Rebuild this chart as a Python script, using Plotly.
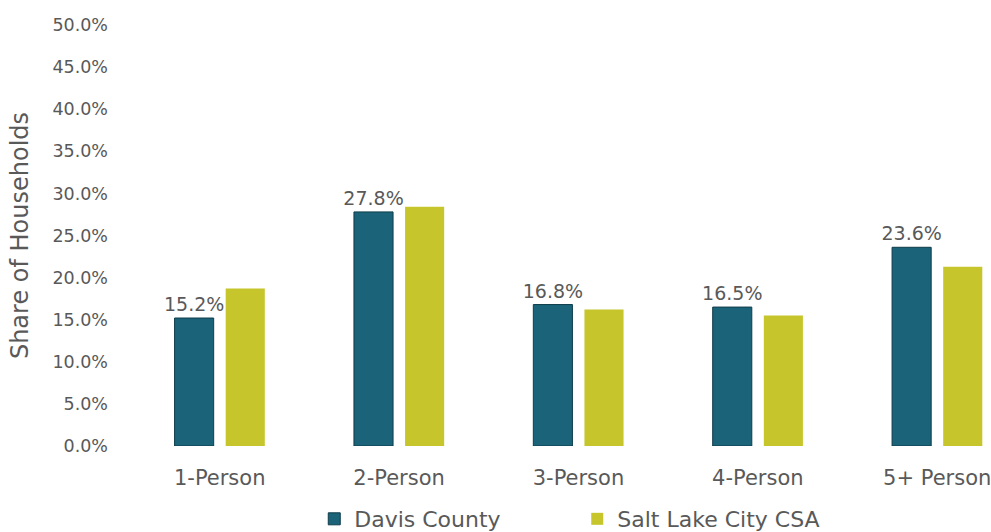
import plotly.graph_objects as go

categories = ["1-Person", "2-Person", "3-Person", "4-Person", "5+ Person"]
davis_county = [15.2, 27.8, 16.8, 16.5, 23.6]
salt_lake_csa = [18.7, 28.4, 16.2, 15.5, 21.3]
y_ticks = [0, 5, 10, 15, 20, 25, 30, 35, 40, 45, 50]
y_tick_labels = [f"{v:.1f}%" for v in y_ticks]

FONT = "DejaVu Sans"
GREY = "#595959"

fig = go.Figure()
fig.add_trace(go.Bar(
    name="Davis County", x=categories, y=davis_county,
    marker=dict(color="#1a6379", line=dict(color="#0f3d4b", width=1)),
    text=[f"{v:.1f}%" for v in davis_county], textposition="outside",
    constraintext="none",
    textfont=dict(family=FONT, size=19, color=GREY), cliponaxis=False,
))
fig.add_trace(go.Bar(
    name="Salt Lake City CSA", x=categories, y=salt_lake_csa,
    marker=dict(color="#c6c62c", line=dict(width=0)),
))

fig.update_layout(
    width=991, height=532,
    margin=dict(l=130, r=0, t=25, b=86, autoexpand=False),
    paper_bgcolor="white", plot_bgcolor="white",
    barmode="group", bargap=0.43, bargroupgap=0.235,
    font=dict(family=FONT, color=GREY),
    showlegend=True,
    legend=dict(
        orientation="h", x=0.214, xanchor="left",
        yref="container", y=0.0244, yanchor="middle",
        font=dict(family=FONT, size=22, color=GREY),
        entrywidth=218, entrywidthmode="pixels", itemwidth=30,
    ),
    xaxis=dict(
        range=[-0.5, 4.3], showgrid=False, showline=False, ticks="",
        tickfont=dict(family=FONT, size=21, color=GREY), ticklabelstandoff=17,
    ),
    yaxis=dict(
        range=[0, 50], tickvals=y_ticks, ticktext=y_tick_labels,
        showgrid=False, showline=False, zeroline=False, ticks="",
        tickfont=dict(family=FONT, size=17.5, color=GREY), ticklabelstandoff=21,
        title=dict(text="Share of Households", standoff=17,
                   font=dict(family=FONT, size=24, color=GREY)),
    ),
)

fig.write_html("out.html")
